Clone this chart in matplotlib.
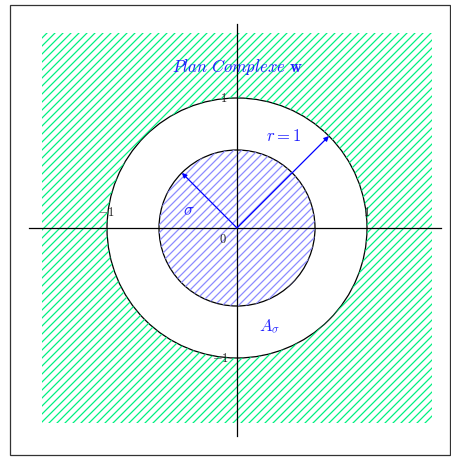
import numpy as np
import matplotlib
matplotlib.use("Agg")
import matplotlib.pyplot as plt
from matplotlib.path import Path
from matplotlib.patches import PathPatch, Circle, Rectangle
from matplotlib.collections import LineCollection

plt.rcParams['mathtext.fontset'] = 'cm'

# geometry of the picture (unit circle plane)
r_outer = 1.0
r_sigma = 0.6
half_side = 1.5
axis_ext = [-1.6, 1.57]
arrow_angles = [45, 135]
arrow_lengths = [r_outer, r_sigma]

tick_labels = ["$1$", "$-1$", "$1$", "$0$", "$-1$"]
tick_pos = [(-0.1, 1.0), (-1.0, 0.12), (1.0, 0.12), (-0.11, -0.09), (-0.13, -1.0)]

blue = '#2020ff'
green = '#00f080'
light_blue = '#8c8cff'
hatch_step = 8.0 / 130   # horizontal spacing of hatch lines


def hatch(ax, clip, color, step):
    offs = np.arange(-3.5, 3.5, step)
    segs = [[(-2, -2 + c), (2, 2 + c)] for c in offs]
    lc = LineCollection(segs, colors=color, linewidths=0.9)
    ax.add_collection(lc)
    lc.set_clip_path(clip)


fig = plt.figure(figsize=(4.52, 4.58), dpi=100)
ax = fig.add_axes([0, 0, 1, 1])
ax.set_xlim(-237 / 130, (452 - 237) / 130)
ax.set_ylim(-(458 - 228) / 130, 228 / 130)
ax.set_aspect('auto')
ax.axis('off')

# outer frame
ax.add_patch(Rectangle((-227 / 130, -227 / 130), 440 / 130, 450 / 130,
                       fill=False, edgecolor='#333333', lw=0.9))

# square minus the unit disc, hatched green
t = np.linspace(0, 2 * np.pi, 200)
sq = [(-half_side, -half_side), (half_side, -half_side), (half_side, half_side),
      (-half_side, half_side), (-half_side, -half_side)]
circ = list(zip(r_outer * np.cos(t[::-1]), r_outer * np.sin(t[::-1])))
verts = sq + circ
codes = ([Path.MOVETO] + [Path.LINETO] * 3 + [Path.CLOSEPOLY] +
         [Path.MOVETO] + [Path.LINETO] * (len(circ) - 1))
outer = PathPatch(Path(verts, codes), facecolor='none', lw=0)
ax.add_patch(outer)
hatch(ax, outer, green, hatch_step)

# inner disc hatched blue
inner = Circle((0, 0), r_sigma, facecolor='none', lw=0)
ax.add_patch(inner)
hatch(ax, inner, light_blue, hatch_step)

# circle outlines
ax.add_patch(Circle((0, 0), r_outer, fill=False, edgecolor='black', lw=0.9))
ax.add_patch(Circle((0, 0), r_sigma, fill=False, edgecolor='black', lw=0.9))

# axes
ax.plot(axis_ext, [0, 0], color='black', lw=0.9)
ax.plot([0, 0], axis_ext[::-1], color='black', lw=0.9)

# arrows
for ang, ln in zip(arrow_angles, arrow_lengths):
    a = np.deg2rad(ang)
    ax.annotate('', xy=(ln * np.cos(a), ln * np.sin(a)), xytext=(0, 0),
                arrowprops=dict(arrowstyle='-|>', color='blue', lw=0.9,
                                mutation_scale=7, shrinkA=0, shrinkB=0))

# labels
ax.text(0, 1.24, r'$Plan\ Complexe\ \mathbf{w}$', color=blue, fontsize=12,
        ha='center', va='center')
ax.text(0.36, 0.71, r'$r = 1$', color=blue, fontsize=12, ha='center', va='center')
ax.text(-0.37, 0.14, r'$\sigma$', color=blue, fontsize=12, ha='center', va='center')
ax.text(0.25, -0.76, r'$A_\sigma$', color=blue, fontsize=12, ha='center', va='center')

for lab, (x, y) in zip(tick_labels, tick_pos):
    ax.text(x, y, lab, color='#222222', fontsize=9, ha='center', va='center')

fig.savefig('out.png', dpi=100)
